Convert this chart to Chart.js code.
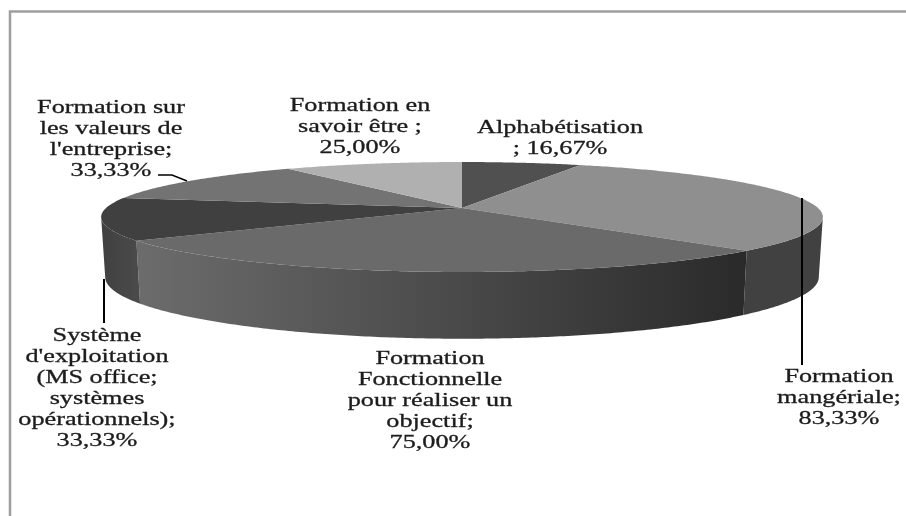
<!DOCTYPE html>
<html lang="fr">
<head>
<meta charset="utf-8">
<title>Répartition des formations</title>
<script src="https://cdn.jsdelivr.net/npm/chart.js@4"></script>
<style>
  html, body { margin: 0; padding: 0; background: #fff; }
  #wrap { position: relative; width: 906px; height: 516px; }
</style>
</head>
<body>
<div id="wrap"><canvas id="pie" width="906" height="516"></canvas></div>
<script>
// Chart data
const categories = [
  "Alphabétisation",
  "Formation mangériale",
  "Formation Fonctionnelle pour réaliser un objectif",
  "Système d'exploitation (MS office; systèmes opérationnels)",
  "Formation sur les valeurs de l'entreprise",
  "Formation en savoir être"
];
const values = [16.67, 83.33, 75.00, 33.33, 33.33, 25.00];

// Label text per slice; {v} stands for the formatted value
const labelLines = [
  ["Alphabétisation", "; {v}"],
  ["Formation", "mangériale;", "{v}"],
  ["Formation", "Fonctionnelle", "pour réaliser un", "objectif;", "{v}"],
  ["Système", "d'exploitation", "(MS office;", "systèmes", "opérationnels);", "{v}"],
  ["Formation sur", "les valeurs de", "l'entreprise;", "{v}"],
  ["Formation en", "savoir être ;", "{v}"]
];

// Anchor of each label block: centre x and first baseline
const labelAnchors = [
  [560, 133], [839, 382], [430, 364], [97, 341], [111, 113], [360, 111]
];

// Greys for the top face of each slice
const topColors = ["#505050", "#8f8f8f", "#6a6a6a", "#404040", "#737373", "#b0b0b0"];
// Wall shades, as [colour at right end, colour at left end]
const wallColors = [
  ["#505050", "#505050"], ["#414141", "#414141"], ["#2a2a2a", "#6c6c6c"],
  ["#4a4a4a", "#404040"], ["#505050", "#505050"], ["#808080", "#808080"]
];

// Leader lines from labels to the pie
const leaders = [
  { points: [[802, 198], [802, 365]], width: 2 },
  { points: [[104, 279], [104, 323]], width: 2 },
  { points: [[158, 175], [172, 175], [187, 181]], width: 1.5 }
];

const formatValue = v => v.toFixed(2).replace(".", ",") + "%";

// Perspective projection of the unit disc: near rim is larger than far rim
const tilt = 0.1636;
const topPlane = { cx: 462, cy: 208, ax: 356, ay: 53.5 };
const basePlane = { cx: 462, cy: 267, ax: 352, ay: 60 };
function project(plane, angle) {
  const s = Math.cos(angle), c = -Math.sin(angle);
  const w = 1 + tilt * c;
  return [plane.cx + plane.ax * s / w, plane.cy - plane.ay * c / w];
}

// Walls are only visible between the two silhouette angles of the rim
const frontStart = Math.asin(tilt);
const frontEnd = Math.PI - Math.asin(tilt);

function traceRim(ctx, plane, from, to, move) {
  const steps = Math.max(2, Math.ceil(Math.abs(to - from) / 0.01));
  for (let i = 0; i <= steps; i++) {
    const p = project(plane, from + (to - from) * i / steps);
    if (i === 0 && move) ctx.moveTo(p[0], p[1]); else ctx.lineTo(p[0], p[1]);
  }
}

// Draws the slices as a tilted disc, using the angles Chart.js computed
const tiltedPie = {
  id: "tiltedPie",
  beforeDatasetsDraw(chart) {
    const ctx = chart.ctx;
    const arcs = chart.getDatasetMeta(0).data;
    ctx.save();
    arcs.forEach((arc, i) => {
      const { startAngle, endAngle } = arc.getProps(["startAngle", "endAngle"], true);
      const from = Math.max(startAngle, frontStart), to = Math.min(endAngle, frontEnd);
      if (to <= from) return;
      const a = project(topPlane, from), b = project(topPlane, to);
      const g = ctx.createLinearGradient(a[0], 0, b[0], 0);
      g.addColorStop(0, wallColors[i][0]);
      g.addColorStop(1, wallColors[i][1]);
      ctx.beginPath();
      traceRim(ctx, topPlane, from, to, true);
      traceRim(ctx, basePlane, to, from, false);
      ctx.closePath();
      ctx.fillStyle = g;
      ctx.fill();
    });
    arcs.forEach((arc, i) => {
      const { startAngle, endAngle } = arc.getProps(["startAngle", "endAngle"], true);
      ctx.beginPath();
      ctx.moveTo(topPlane.cx, topPlane.cy);
      traceRim(ctx, topPlane, startAngle, endAngle, false);
      ctx.closePath();
      ctx.fillStyle = topColors[i];
      ctx.fill();
    });
    ctx.restore();
    return false;
  },
  afterDraw(chart) {
    const ctx = chart.ctx;
    ctx.save();
    // Outer frame, open at the right and bottom
    ctx.strokeStyle = "#9e9e9e";
    ctx.lineWidth = 2.5;
    ctx.beginPath();
    ctx.moveTo(10, 516);
    ctx.lineTo(10, 11.5);
    ctx.lineTo(906, 11.5);
    ctx.stroke();
    // Leaders
    ctx.strokeStyle = "#000";
    leaders.forEach(l => {
      ctx.lineWidth = l.width;
      ctx.beginPath();
      l.points.forEach((p, i) => i ? ctx.lineTo(p[0], p[1]) : ctx.moveTo(p[0], p[1]));
      ctx.stroke();
    });
    // Labels, widened horizontally, with a hairline stroke for weight
    ctx.fillStyle = "#1c1c1c";
    ctx.strokeStyle = "#1c1c1c";
    ctx.lineWidth = 0.3;
    ctx.textAlign = "center";
    ctx.textBaseline = "alphabetic";
    ctx.font = '19px "Liberation Serif"';
    const stretch = 1.38, lineStep = 21;
    labelLines.forEach((lines, i) => {
      const [x, y] = labelAnchors[i];
      lines.forEach((line, j) => {
        const text = line.replace("{v}", formatValue(values[i]));
        ctx.save();
        ctx.translate(x, y + j * lineStep);
        ctx.scale(stretch, 1);
        ctx.fillText(text, 0, 0);
        ctx.strokeText(text, 0, 0);
        ctx.restore();
      });
    });
    ctx.restore();
  }
};

new Chart(document.getElementById("pie"), {
  type: "pie",
  data: { labels: categories, datasets: [{ data: values, backgroundColor: topColors, borderWidth: 0 }] },
  options: {
    responsive: false,
    animation: false,
    plugins: { legend: { display: false }, tooltip: { enabled: false } }
  },
  plugins: [tiltedPie]
});
</script>
</body>
</html>
